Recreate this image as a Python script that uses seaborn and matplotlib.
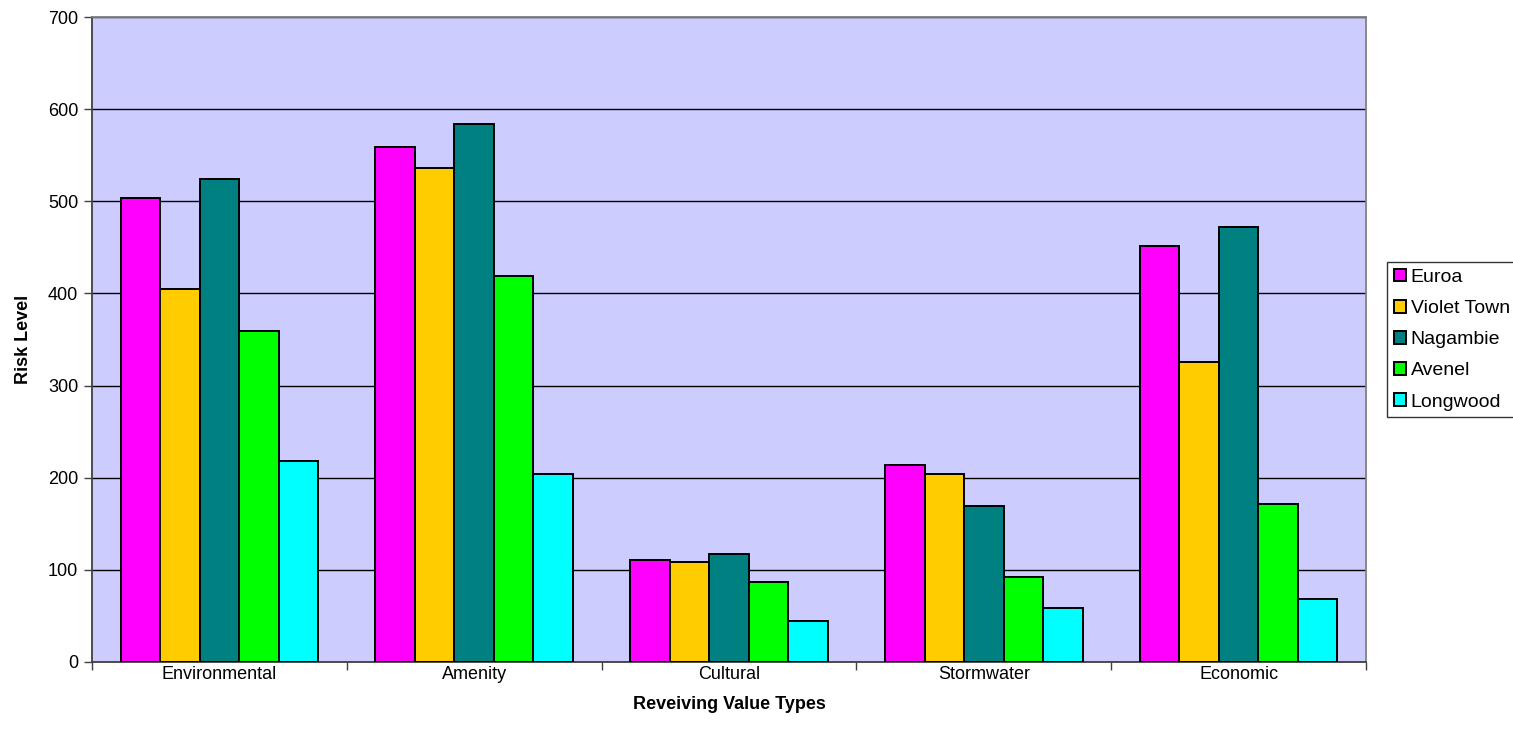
import matplotlib
matplotlib.use("Agg")
import matplotlib.pyplot as plt
import numpy as np
import pandas as pd
import seaborn as sns
from matplotlib.ticker import FixedLocator, NullFormatter

categories = ["Environmental", "Amenity", "Cultural", "Stormwater", "Economic"]
towns = ["Euroa", "Violet Town", "Nagambie", "Avenel", "Longwood"]
euroa = [504, 559, 111, 214, 452]
violet_town = [405, 536, 108, 204, 326]
nagambie = [524, 584, 117, 169, 472]
avenel = [359, 419, 87, 92, 172]
longwood = [218, 204, 44, 59, 68]
colors = ["#FF00FF", "#FFCC00", "#008080", "#00FF00", "#00FFFF"]
yticks = [0, 100, 200, 300, 400, 500, 600, 700]

series = [euroa, violet_town, nagambie, avenel, longwood]
df = pd.DataFrame(
    [(c, t, v) for t, vals in zip(towns, series) for c, v in zip(categories, vals)],
    columns=["Category", "Town", "Risk"],
)

sns.set_theme(style="white")
plt.rcParams["font.family"] = ["Liberation Sans", "DejaVu Sans"]
plt.rcParams["text.color"] = "black"
plt.rcParams["axes.labelcolor"] = "black"
plt.rcParams["xtick.color"] = "black"
plt.rcParams["ytick.color"] = "black"

fig = plt.figure(figsize=(15.13, 7.40), dpi=100)
ax = fig.add_axes([92 / 1513, 1 - 662 / 740, (1366 - 92) / 1513, (662 - 17) / 740])
ax.set_facecolor("#CCCCFF")

sns.barplot(
    data=df, x="Category", y="Risk", hue="Town", order=categories,
    hue_order=towns, palette=colors, width=0.775, gap=0,
    edgecolor="black", linewidth=1.4, saturation=1, ax=ax, zorder=3,
)

ax.set_ylim(0, 700)
ax.set_xlim(-0.5, len(categories) - 0.5)
ax.set_yticks(yticks)
ax.yaxis.grid(True, color="black", linewidth=1.0, zorder=0)
ax.set_axisbelow(True)

# category ticks sit between groups; labels stay centred
ax.set_xticks(range(len(categories)))
ax.set_xticklabels(categories, fontsize=13)
ax.tick_params(axis="x", which="major", length=0, pad=3, labelcolor="black")
ax.xaxis.set_minor_locator(FixedLocator(np.arange(-0.5, len(categories), 1.0)))
ax.xaxis.set_minor_formatter(NullFormatter())
ax.tick_params(axis="x", which="minor", length=6, width=1, color="#404040",
               direction="out", bottom=True)
ax.tick_params(axis="y", length=6, width=1, color="#404040", direction="out",
               left=True, labelsize=13, pad=4, labelcolor="black")

for side in ["left", "bottom"]:
    ax.spines[side].set_color("#404040")
    ax.spines[side].set_linewidth(1.3)
for side in ["top", "right"]:
    ax.spines[side].set_color("#808080")
    ax.spines[side].set_linewidth(1.3)

ax.set_xlabel("Reveiving Value Types", fontsize=13, fontweight="bold", labelpad=9)
ax.set_ylabel("Risk Level", fontsize=13, fontweight="bold", labelpad=11)

leg = ax.legend(
    loc="upper left", bbox_to_anchor=(1387 / 1513, 1 - 262 / 740),
    bbox_transform=fig.transFigure, frameon=True, fancybox=False,
    edgecolor="black", fontsize=14, handlelength=0.62, handleheight=0.62,
    handletextpad=0.25, labelspacing=0.72, borderpad=0.35, borderaxespad=0,
    title=None,
)
leg.get_frame().set_linewidth(1.0)
for t in leg.get_texts():
    t.set_color("black")

fig.savefig("out.png", dpi=100, facecolor="white")
